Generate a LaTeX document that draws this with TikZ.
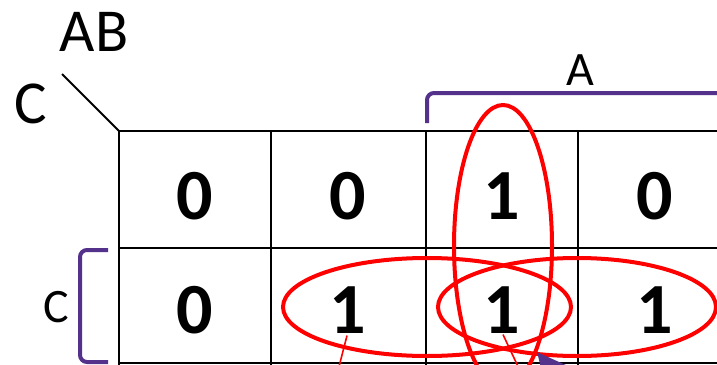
\documentclass[tikz,border=0pt]{standalone}
\usepackage{fontspec}
\setmainfont{Carlito}
\usetikzlibrary{arrows.meta}
\definecolor{bracketpurple}{RGB}{84,50,140}
\definecolor{loopred}{RGB}{255,0,0}
\tikzset{
  gridline/.style={draw=black, line width=2pt},
  digit/.style={font=\fontsize{72}{72}\selectfont\bfseries, inner sep=0pt},
  biglabel/.style={font=\fontsize{61}{61}\selectfont, inner sep=0pt},
  midlabel/.style={font=\fontsize{48}{48}\selectfont, inner sep=0pt},
  bracket/.style={draw=bracketpurple, line width=4pt, rounded corners=7pt},
  loop/.style={draw=loopred, line width=4pt},
  pointer/.style={draw=loopred, line width=1.6pt},
}
\begin{document}
\begin{tikzpicture}[x=1pt,y=-1pt]
\clip (0,0) rectangle (717,364);
\fill[white] (0,0) rectangle (717,364);
% grid
\coordinate (g00) at (119,131);
\draw[gridline] (119,131) -- (740,131);
\draw[gridline] (119,248) -- (740,248);
\draw[gridline] (119,363) -- (740,363);
\draw[gridline] (119,131) -- (119,380);
\draw[gridline] (271,131) -- (271,380);
\draw[gridline] (426,131) -- (426,380);
\draw[gridline] (578,131) -- (578,380);
% diagonal
\coordinate (diagtop) at (62,74);
\draw[line width=2pt] (diagtop) -- (g00);
% labels
\node[biglabel] (ab) at (94,32) {AB};
\node[biglabel] (ctop) at (31,104) {C};
\node[midlabel] (alab) at (580,70) {A};
\node[midlabel] (clab) at (56,307) {C};
% digits
\node[digit] (d11) at (195,196) {0};
\node[digit] (d12) at (348,196) {0};
\node[digit] (d13) at (502,196) {1};
\node[digit] (d14) at (655,196) {0};
\node[digit] (d21) at (195,310) {0};
\node[digit] (d22) at (348,310) {1};
\node[digit] (d23) at (502,310) {1};
\node[digit] (d24) at (655,310) {1};
% brackets
\draw[bracket] (427,123) -- (427,93) -- (740,93);
\draw[bracket] (108,250) -- (80,250) -- (80,362) -- (108,362);
% loops
\draw[loop] (503,246) ellipse [x radius=49pt, y radius=141pt];
\draw[loop] (427,307) ellipse [x radius=144pt, y radius=49pt];
\draw[loop] (577,307) ellipse [x radius=139pt, y radius=49pt];
% thin pointers
\coordinate (p1end) at (333,390);
\coordinate (p2end) at (530,392);
\draw[pointer] (d22.south) ++(-1,2) coordinate (p1start) -- (p1end);
\draw[pointer] (d23.south) ++(1,1) coordinate (p2start) -- (p2end);
% purple arrow
\coordinate (arrtip) at (537,352);
\coordinate (arrtail) at (585,410);
\draw[draw=bracketpurple, line width=5pt, -{Triangle[length=30pt,width=28pt]}] (arrtail) -- (arrtip);
\end{tikzpicture}
\end{document}
